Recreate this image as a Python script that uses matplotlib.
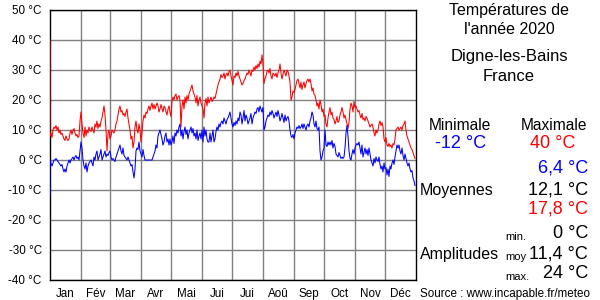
import matplotlib
matplotlib.use("Agg")
import matplotlib.pyplot as plt
import numpy as np

plt.rcParams['font.family'] = ['Liberation Sans', 'DejaVu Sans']

months = ["Jan", "Fév", "Mar", "Avr", "Mai", "Jui", "Jui", "Aoû", "Sep", "Oct", "Nov", "Déc"]
month_days = [31, 29, 31, 30, 31, 30, 31, 31, 30, 31, 30, 31]
ytick_vals = [-40, -30, -20, -10, 0, 10, 20, 30, 40, 50]

annual_max = 40
annual_min = -12

tmax = [
    8, 9, 7.5, 10, 11, 10.5, 11.5, 10, 11, 9,
    10, 8.5, 9, 8, 7, 6.5, 8, 7, 6.5, 7,
    9, 10, 8.5, 10, 10.5, 9, 8, 8.5, 7.5, 8,
    13, 16, 12, 9, 7.5, 11, 8, 10, 9, 11,
    10, 9.5, 11, 10, 9, 12, 11, 13, 10.5, 12,
    11, 13, 14, 16, 18, 15, 10, 3, 9, 10,
    7, 8, 10, 9.5, 9, 10, 12, 13, 15, 17,
    18, 16, 16.5, 15, 15.5, 14.5, 16, 17, 14, 12,
    10, 7, 8, 4, 6, 11, 13, 10, 9, 12,
    10, 6, 9, 13, 15, 14, 16, 15.5, 17, 18,
    16.5, 18, 19, 17, 18.5, 17, 18, 19, 18, 16,
    17, 18.5, 17, 16, 18, 17.5, 16, 15, 17, 18,
    16, 14.5, 19.5, 21, 20, 21.5, 22, 20, 21, 21.5,
    20, 11, 18, 20, 17, 21, 19, 21.5, 20, 22,
    23, 24, 25, 23, 22, 21, 19, 21.5, 18, 20,
    21, 19, 18, 17, 14, 19, 20.5, 18, 21, 19,
    20, 21, 19.5, 20, 21, 20.5, 22, 23.5, 25, 26,
    27, 28.5, 27.5, 28, 29, 27, 28.5, 29, 28, 29.5,
    30, 28, 26.5, 25, 28, 27.5, 29, 28, 29.5, 28,
    27, 26, 25, 25.5, 26.5, 27, 28, 29, 28.5, 30,
    29, 28, 30, 29.5, 31, 30, 31.5, 30.5, 32, 31,
    33, 32, 35, 32, 25.5, 27, 28, 29.5, 30, 29,
    30.5, 28, 27, 29, 28.5, 28, 29, 27.5, 29, 30,
    32, 29, 27, 28.5, 30, 29, 28, 30, 29.5, 28,
    26, 20, 21, 23, 22.5, 23.5, 25, 26.5, 27, 25.5,
    24, 26, 23.5, 25, 26, 24, 25.5, 26.5, 27, 26,
    27, 25.5, 23, 24, 22, 21.5, 20, 18, 19, 17,
    20, 18.5, 16, 17, 14.5, 15, 12, 11, 14, 16,
    17.5, 15, 16, 14, 13.5, 12, 13, 14.5, 12.5, 13,
    15, 16, 17.5, 16, 14, 15, 13.5, 12, 10.5, 12.5,
    17, 19, 18, 16, 19.5, 17.5, 18, 17, 16, 16.5,
    15, 14, 15.5, 13.5, 14, 13, 14.5, 14, 13, 12,
    11, 11.5, 12, 11, 9, 8, 10, 9, 10, 12,
    13, 11.5, 12.5, 11, 7, 6, 7.5, 5, 4.5, 5.5,
    4.5, 5, 4, 5.5, 5, 7, 10, 10.5, 11, 10,
    10.5, 11, 10, 11.5, 12, 13, 10, 8, 7, 6,
    5, 4, 3.5, 2.5, 1.5, 0.5,
]

tmin = [
    0, -1, -2, -1, 0, 0, 0.5, 0, -0.5, -1,
    -1.5, -2, -1.5, -3, -4, -3, -4, -2, -1, 0,
    -1, 0, 0.5, 1, 0, 1, 1.5, 0.5, 1, 0,
    3, 6, 4, 0, -2, -3, -1, -4, -2, -1,
    -0.5, 0, -1, -2, 1, 0, 2, 3, 0, 1,
    2, 3.5, 0, 1, 2, 3, 1, 2, 1.5, 2.5,
    3, 1, 0, 0.5, 0, -0.5, 1, 2, 3, 4,
    5, 3, 2, 4, 1.5, 1, 0.5, 0, 1, 0,
    -1, -2, -1.5, -4, -6, -3, 3, 4, 3.5, 6,
    3, 2, 1, 3.5, 1.5, 0, 0, 0, 0, 0,
    0, 0, 0, 1, 2, 3, 5, 4, 8, 9,
    10, 8.5, 7, 5, 6, 8, 9, 6, 7, 5,
    7, 5, 6, 8, 5.5, 9, 8, 10, 9, 11,
    12, 8, 10, 7, 9.5, 11, 8.5, 10, 7, 9,
    10, 11, 9, 10.5, 8, 9, 7, 10, 6.5, 8,
    9, 7, 10, 6, 11, 8, 10, 7, 6, 6,
    9, 6, 8, 10, 6, 7, 9.5, 11, 10, 12,
    11, 12.5, 13, 12, 14, 13, 12, 13.5, 14, 15,
    16, 14, 12, 11, 12.5, 11.5, 13, 12, 14, 13,
    16, 15, 12, 14, 16.5, 13, 15, 14, 12, 13,
    14, 15.5, 12, 14, 15, 16, 15.5, 17, 17.5, 16,
    18, 17, 16, 17.5, 10, 11, 13, 14, 15, 14.5,
    16, 15, 16.5, 15.5, 14, 15, 16, 14.5, 16.5, 15,
    13, 14, 15.5, 14, 12.5, 15, 13, 14, 14.5, 13,
    10, 8, 7.5, 8.5, 7, 9, 10, 11, 10.5, 11.5,
    10.5, 11, 12, 10.5, 12, 11, 10, 11.5, 12, 11,
    13, 14, 16, 15, 12, 11, 13, 10.5, 10, 11,
    3, 0, 1, 3, 4, 10, 5, 4.5, 6, 5,
    6, 5, 6.5, 4, 5.5, 4.5, 2, 1.5, 1, 2.5,
    1.5, 0.5, 1, 0.5, 1, 4, 9, 11.5, 8, 3,
    0.5, 0, 2, 3.5, 2, 4, 5, 5.5, 5, 6,
    4, 2, 5, 1, 2.5, 4, 2, 3.5, 1.5, 4,
    2, 0, -1, -2, 0.5, -1, 1, 0, -0.5, 1,
    -1.5, -3, -2, -4, -1, -3, -2.5, -5, -3, -5.5,
    -2, -3, -1, 0, -1.5, 1, 3, 5, 4, 5,
    3, 2, 4, 1.5, 0, 2, 0.5, -1, -2, -1,
    -3, -4, -3.5, -6, -7, -8.5,
]

W, H = 600, 300
fig = plt.figure(figsize=(6, 3), dpi=100)
ax = fig.add_axes([50 / W, 20 / H, 366 / W, 270 / H])

ndays = len(tmax)
days = np.arange(ndays)
xr = np.concatenate([[0], days])
ax.plot(xr, [annual_max] + tmax, color="#ff0000", lw=0.75, zorder=3)
ax.plot(xr, [annual_min] + tmin, color="#0000ff", lw=0.75, zorder=3)

starts = np.cumsum([0] + month_days)
ax.set_xlim(0, 366)
ax.set_ylim(-40, 50)
ax.set_xticks(starts[1:-1])
ax.set_xticklabels([])
ax.set_xticks((starts[:-1] + starts[1:]) / 2, minor=True)
ax.set_xticklabels(months, minor=True, fontsize=8.4)
ax.tick_params(axis="x", which="both", length=0, pad=6)
ax.set_yticks(ytick_vals)
ax.set_yticklabels([f"{v} °C" for v in ytick_vals], fontsize=8.4)
ax.tick_params(axis="y", length=0, pad=6)
ax.grid(True, which="major", color="#808080", lw=1)
for s in ax.spines.values():
    s.set_color("black")
    s.set_linewidth(1)

def ftxt(x, y, s, **kw):
    fig.text(x / W, 1 - y / H, s, va="center", **kw)

ftxt(509, 10, "Températures de", ha="center", fontsize=11.5)
ftxt(509, 30, "l'année 2020", ha="center", fontsize=11.5)
ftxt(509, 57, "Digne-les-Bains", ha="center", fontsize=12)
ftxt(509, 77, "France", ha="center", fontsize=12)
ftxt(460, 125, "Minimale", ha="center", fontsize=11.2)
ftxt(554, 125, "Maximale", ha="center", fontsize=11.2)
ftxt(461, 144, f"{annual_min} °C", ha="center", fontsize=13, color="#0000ff")
ftxt(553, 144, f"{annual_max} °C", ha="center", fontsize=13, color="#ff0000")
ftxt(588, 168, "6,4 °C", ha="right", fontsize=13, color="#0000ff")
ftxt(420, 190, "Moyennes", ha="left", fontsize=11.5)
ftxt(588, 190, "12,1 °C", ha="right", fontsize=13)
ftxt(588, 209, "17,8 °C", ha="right", fontsize=13, color="#ff0000")
ftxt(505, 237, "min.", ha="left", fontsize=8)
ftxt(588, 234, "0 °C", ha="right", fontsize=13)
ftxt(420, 255, "Amplitudes", ha="left", fontsize=11.5)
ftxt(505, 257, "moy", ha="left", fontsize=8)
ftxt(588, 254, "11,4 °C", ha="right", fontsize=13)
ftxt(505, 277, "max.", ha="left", fontsize=8)
ftxt(588, 274, "24 °C", ha="right", fontsize=13)
ftxt(420, 294, "Source : www.incapable.fr/meteo", ha="left", fontsize=8.4)

fig.savefig("out.png", dpi=100)
